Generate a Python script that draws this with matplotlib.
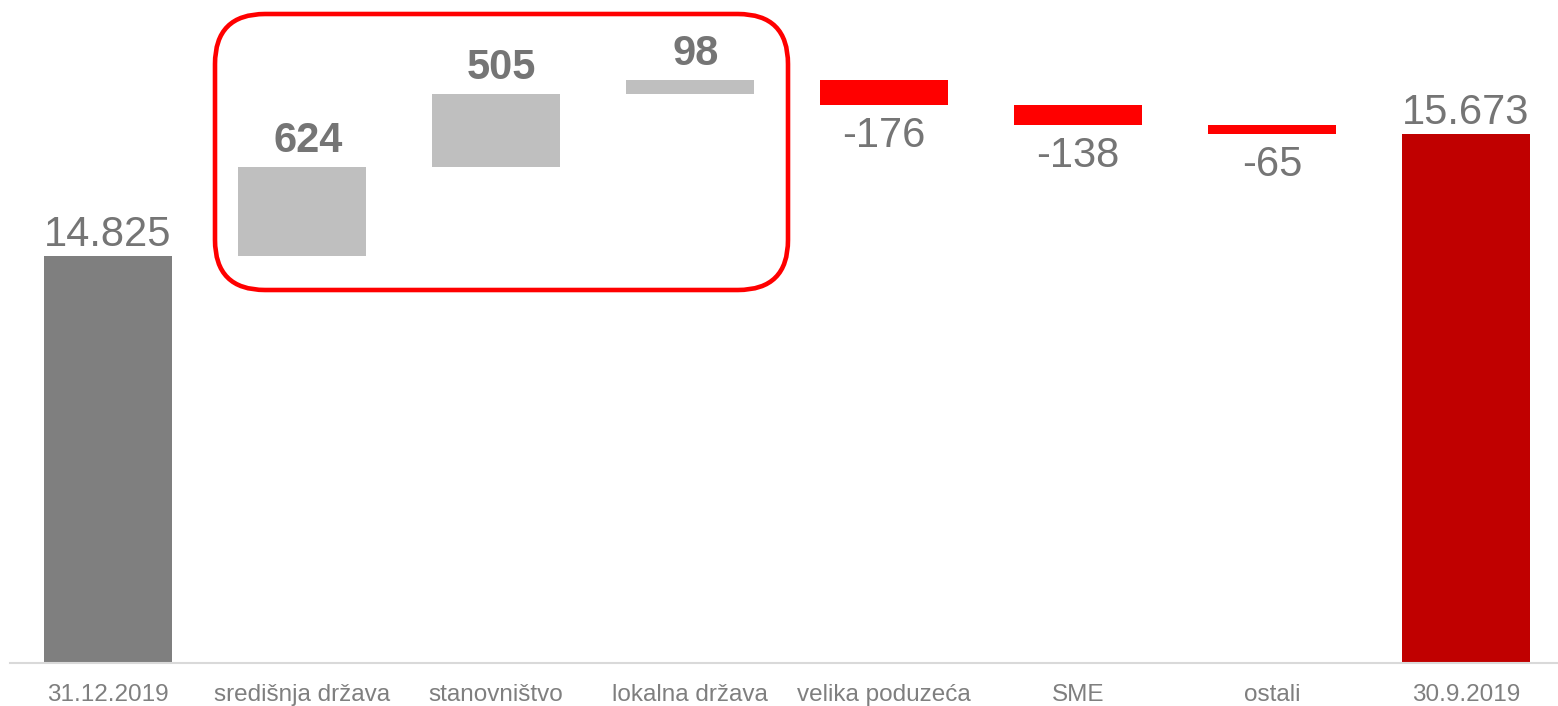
import matplotlib
matplotlib.use("Agg")
import matplotlib.pyplot as plt
from matplotlib.patches import FancyBboxPatch

plt.rcParams['font.family'] = ['Liberation Sans', 'DejaVu Sans']

# waterfall data (mil. kn)
categories = ['31.12.2019', 'središnja država', 'stanovništvo', 'lokalna država',
              'velika poduzeća', 'SME', 'ostali', '30.9.2019']
start_value = 14825
changes = [624, 505, 98, -176, -138, -65]
end_value = 15673
value_labels = ['14.825', '624', '505', '98', '-176', '-138', '-65', '15.673']

C_START = '#7f7f7f'
C_UP = '#bfbfbf'
C_DOWN = '#ff0000'
C_END = '#c00000'
C_TEXT = '#757575'

W, H = 1558, 706
fig = plt.figure(figsize=(W / 100, H / 100), dpi=100)
ax = fig.add_axes([10 / W, 1 - 663 / H, 1 - 10 / W, 663 / H])

y_base = 12000
width = 0.66

# opening total
ax.bar(0, start_value - y_base, bottom=y_base, width=width, color=C_START)
ax.text(0, start_value + 10, value_labels[0], ha='center', va='bottom',
        fontsize=30, color=C_TEXT)

# floating change bars
running = start_value
for i, d in enumerate(changes, start=1):
    lo = running if d > 0 else running + d
    col = C_UP if d > 0 else C_DOWN
    ax.bar(i, abs(d), bottom=lo, width=width, color=col)
    if d > 0:
        ax.text(i + 0.03, running + d + 40, value_labels[i], ha='center', va='bottom',
                fontsize=30, fontweight='bold', color=C_TEXT)
    else:
        ax.text(i, running + d - 75, value_labels[i], ha='center', va='top',
                fontsize=30, color=C_TEXT)
    running += d

# closing total
n = len(categories) - 1
ax.bar(n, end_value - y_base, bottom=y_base, width=width, color=C_END)
ax.text(n, end_value + 10, value_labels[n], ha='center', va='bottom',
        fontsize=30, color=C_TEXT)

ax.set_ylim(y_base, 16607)
ax.set_xlim(-0.505, 7.474)
ax.set_xticks(range(len(categories)))
ax.set_xticklabels(categories, fontsize=17.5, color='#7f7f7f')
ax.tick_params(axis='x', length=0, pad=15)
ax.set_yticks([])
for s in ['top', 'left', 'right']:
    ax.spines[s].set_visible(False)
ax.spines['bottom'].set_color('#d9d9d9')
ax.spines['bottom'].set_linewidth(1.5)

# highlight box around the positive contributors, drawn in pixel space
over = fig.add_axes([0, 0, 1, 1])
over.set_xlim(0, W)
over.set_ylim(H, 0)
over.axis('off')
over.patch.set_alpha(0)
box = FancyBboxPatch((215, 14), 573, 276,
                     boxstyle='round,pad=0,rounding_size=50',
                     fill=False, edgecolor='#ff0000', linewidth=3.3)
over.add_patch(box)

fig.savefig('out.png', dpi=100)
